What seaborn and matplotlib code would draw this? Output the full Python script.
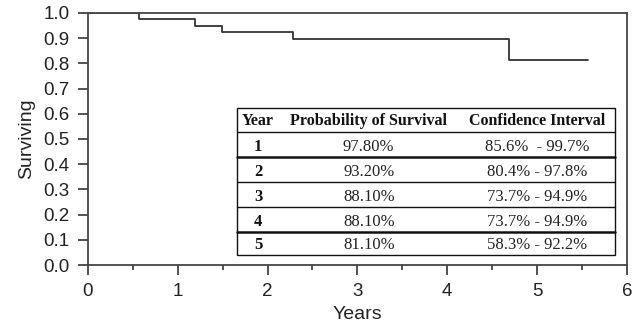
import seaborn as sns
import matplotlib.pyplot as plt

# Kaplan-Meier style step curve
years = [0, 0.57, 1.19, 1.49, 2.28, 4.69, 5.57]
surviving = [1.0, 0.975, 0.947, 0.923, 0.897, 0.812, 0.812]

# inset table
tbl_years = ["1", "2", "3", "4", "5"]
tbl_prob = ["97.80%", "93.20%", "88.10%", "88.10%", "81.10%"]
tbl_ci = ["85.6%  - 99.7%", "80.4% - 97.8%", "73.7% - 94.9%", "73.7% - 94.9%", "58.3% - 92.2%"]
tbl_header = ["Year", "Probability of Survival", "Confidence Interval"]

sns.set_style("white")
plt.rcParams['font.family'] = ['Liberation Sans', 'DejaVu Sans']

fig = plt.figure(figsize=(6.32, 3.22), dpi=100)
ax = fig.add_axes([0.139, 0.177, 0.853, 0.783])

sns.lineplot(x=years, y=surviving, drawstyle="steps-post", color="#333333", linewidth=1.3, ax=ax)

ax.set_xlim(0, 6)
ax.set_ylim(0, 1.0)
ax.set_xticks(range(0, 7))
ax.set_xticks([0.5, 1.5, 2.5, 3.5, 4.5, 5.5], minor=True)
ax.set_yticks([i / 10 for i in range(0, 11)])
ax.set_yticklabels(["%.1f" % (i / 10) for i in range(0, 11)])
ax.tick_params(axis="both", which="major", direction="out", length=7, width=1.2, pad=6,
               color="#333333", labelsize=13.5, labelcolor="#222222", bottom=True, left=True)
ax.tick_params(axis="x", which="minor", direction="out", length=3.5, width=1.2,
               color="#333333", bottom=True)
for s in ax.spines.values():
    s.set_color("#444444")
    s.set_linewidth(1.3)

ax.set_xlabel("Years", fontsize=14, color="#222222", labelpad=4)
ax.set_ylabel("Surviving", fontsize=14, color="#222222", labelpad=6)

# table drawn in axes coordinates
x0, x1 = 0.276, 0.978
bounds = [0.622, 0.529, 0.427, 0.329, 0.230, 0.129, 0.040]
col_x = [0.316, 0.521, 0.833]
serif = ['Liberation Serif', 'DejaVu Serif']

ax.add_patch(plt.Rectangle((x0, bounds[-1]), x1 - x0, bounds[0] - bounds[-1], transform=ax.transAxes,
                           fill=True, facecolor="white", edgecolor="#111111", linewidth=1.0, zorder=3))
thick = {2, 5}
for i, yb in enumerate(bounds[1:-1], start=1):
    ax.plot([x0, x1], [yb, yb], transform=ax.transAxes, color="#111111",
            linewidth=1.8 if i in thick else 1.0, zorder=4)

for cx, h in zip(col_x, tbl_header):
    ax.text(cx, bounds[1] + 0.01, h, transform=ax.transAxes, ha="center", va="bottom",
            fontsize=11.5, fontweight="bold", family=serif, color="#111111", zorder=5)

for r in range(5):
    yb = bounds[r + 2] + 0.008
    ax.text(col_x[0], yb, tbl_years[r], transform=ax.transAxes, ha="center", va="bottom",
            fontsize=12, fontweight="bold", family=serif, color="#111111", zorder=5)
    ax.text(col_x[1], yb, tbl_prob[r], transform=ax.transAxes, ha="center", va="bottom",
            fontsize=12, family=serif, color="#222222", zorder=5)
    ax.text(col_x[2], yb, tbl_ci[r], transform=ax.transAxes, ha="center", va="bottom",
            fontsize=12, family=serif, color="#222222", zorder=5)

fig.savefig("out.png", dpi=100)
